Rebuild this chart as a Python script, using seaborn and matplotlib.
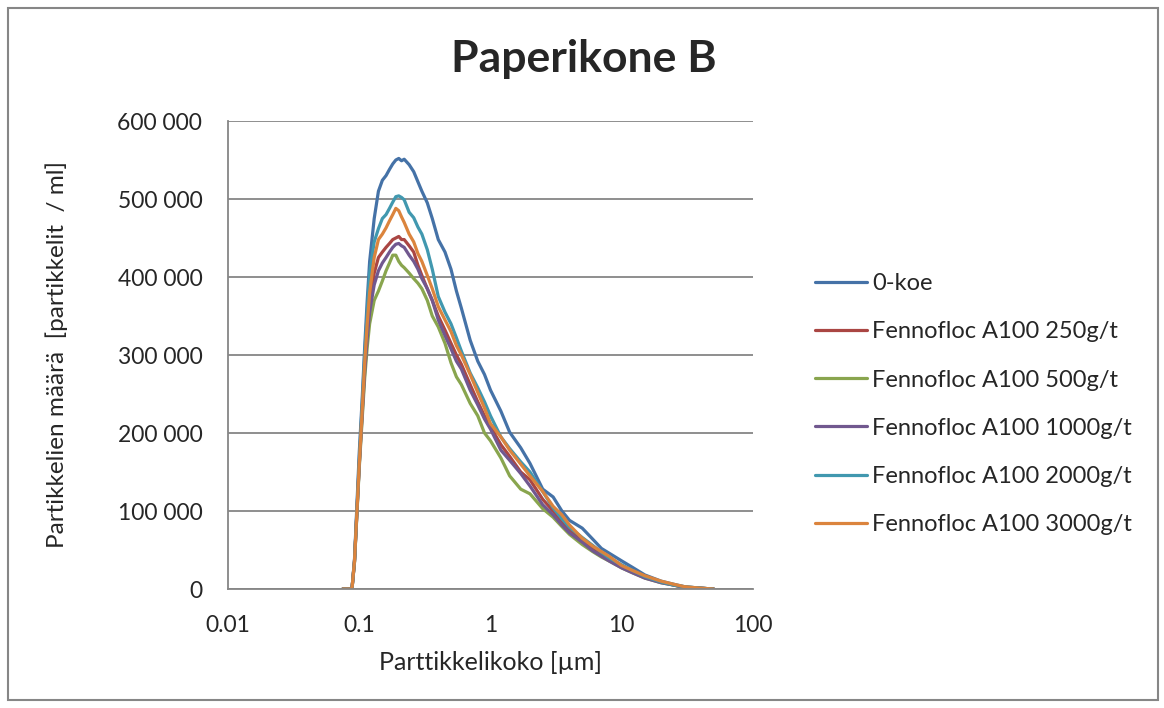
import numpy as np
import pandas as pd
import matplotlib
matplotlib.use("Agg")
import matplotlib.pyplot as plt
import seaborn as sns
from matplotlib.patches import Rectangle
from matplotlib.ticker import FuncFormatter, FixedLocator

# Particle size grid (µm)
size_um = [0.075, 0.088, 0.092, 0.1, 0.105, 0.11, 0.115, 0.12, 0.13, 0.14, 0.15, 0.16, 0.17,
           0.18, 0.19, 0.2, 0.21, 0.22, 0.24, 0.26, 0.28, 0.3, 0.33, 0.36, 0.4, 0.45, 0.5,
           0.55, 0.6, 0.7, 0.8, 0.9, 1.0, 1.2, 1.4, 1.7, 2.0, 2.5, 3, 3.5, 4, 5, 6, 7, 8,
           10, 12, 15, 20, 25, 30, 40, 50]

# Particle counts (thousands / ml)
koe0 = [0, 0, 38, 175, 240, 310, 370, 420, 475, 510, 524, 530, 538,
        545, 550, 552, 549, 551, 544, 535, 522, 510, 495, 475, 448, 432, 410,
        382, 360, 319, 292, 275, 255, 228, 201, 181, 161, 128, 118, 100, 88, 78, 64, 52, 46,
        36, 28, 18, 10, 6, 3, 1, 0]
a250 = [0, 0, 35, 160, 225, 285, 330, 365, 405, 425, 432, 438, 443,
        448, 450, 452, 448, 448, 440, 432, 415, 402, 385, 370, 350, 332, 315,
        300, 288, 262, 240, 222, 208, 185, 170, 150, 140, 115, 100, 86, 76, 62, 52, 44, 38,
        28, 22, 15, 9, 5, 2, 1, 0]
a500 = [0, 0, 34, 155, 215, 270, 310, 340, 370, 382, 395, 408, 418,
        428, 428, 420, 415, 412, 405, 398, 392, 385, 370, 350, 336, 315, 290,
        272, 262, 238, 222, 200, 190, 168, 145, 128, 122, 103, 92, 80, 70, 57, 48, 41, 36,
        27, 21, 14, 8, 5, 2, 1, 0]
a1000 = [0, 0, 35, 158, 220, 278, 322, 355, 390, 408, 418, 425, 432,
         438, 442, 443, 440, 438, 428, 420, 410, 398, 385, 370, 345, 325, 308,
         292, 282, 255, 236, 218, 205, 178, 165, 148, 132, 108, 95, 82, 72, 60, 49, 42, 36,
         27, 21, 14, 8, 5, 2, 1, 0]
a2000 = [0, 0, 36, 165, 232, 300, 355, 405, 445, 462, 475, 480, 488,
         496, 503, 504, 502, 499, 483, 476, 464, 455, 435, 410, 375, 355, 340,
         322, 305, 277, 258, 240, 222, 195, 180, 163, 150, 125, 104, 90, 79, 66, 56, 47, 40,
         31, 24, 16, 9, 5, 3, 1, 0]
a3000 = [0, 0, 36, 160, 225, 290, 340, 380, 425, 448, 455, 463, 472,
         480, 488, 485, 477, 470, 455, 445, 430, 420, 402, 385, 362, 345, 330,
         312, 300, 275, 252, 232, 212, 195, 178, 160, 145, 125, 106, 95, 82, 65, 55, 48, 42,
         30, 24, 17, 10, 6, 3, 1, 0]

series_names = ["0-koe", "Fennofloc A100 250g/t", "Fennofloc A100 500g/t",
                "Fennofloc A100 1000g/t", "Fennofloc A100 2000g/t", "Fennofloc A100 3000g/t"]
series_values = [koe0, a250, a500, a1000, a2000, a3000]
colors = ["#4572A7", "#AA4643", "#89A54E", "#71588F", "#4198AF", "#DB843D"]

x_ticks = [0.01, 0.1, 1, 10, 100]
x_tick_labels = ["0.01", "0.1", "1", "10", "100"]
y_ticks = [0, 100000, 200000, 300000, 400000, 500000, 600000]

rows = []
for name, vals in zip(series_names, series_values):
    for s, v in zip(size_um, vals):
        rows.append({"size": s, "count": v * 1000, "series": name})
df = pd.DataFrame(rows)

sns.set_style("white")
plt.rcParams["font.family"] = ["Lato", "DejaVu Sans"]

fig = plt.figure(figsize=(11.64, 7.08), dpi=100)
ax = fig.add_axes([228 / 1164, 1 - 589 / 708, (753 - 228) / 1164, (589 - 121) / 708])

sns.lineplot(data=df, x="size", y="count", hue="series", hue_order=series_names,
             palette=colors, linewidth=2.3, ax=ax, sort=False, estimator=None)

ax.set_xscale("log")
ax.set_xlim(0.01, 100)
ax.set_ylim(0, 600000)
ax.xaxis.set_major_locator(FixedLocator(x_ticks))
ax.xaxis.set_minor_locator(FixedLocator([]))
ax.set_xticklabels(x_tick_labels)
ax.set_yticks(y_ticks)
ax.yaxis.set_major_formatter(FuncFormatter(lambda v, p: f"{int(v):,}".replace(",", " ")))
ax.tick_params(axis="both", length=0, labelsize=16.5)
ax.tick_params(axis="x", pad=19)
ax.tick_params(axis="y", pad=18.5)
ax.grid(axis="y", color="#868686", linewidth=1.3)
ax.set_axisbelow(True)
for sp in ["top", "right"]:
    ax.spines[sp].set_visible(False)
for sp in ["left", "bottom"]:
    ax.spines[sp].set_color("#868686")
    ax.spines[sp].set_linewidth(1.3)

ax.set_xlabel("Parttikkelikoko [µm]", fontsize=18)
ax.set_ylabel("Partikkelien määrä  [partikkelit  / ml]", fontsize=17.5)
ax.xaxis.set_label_coords(0.5, (589 - 662) / 468)
ax.xaxis.label.set_va("center")
ax.yaxis.set_label_coords((57 - 228) / 525, 0.5)
ax.yaxis.label.set_va("center")

fig.text(584 / 1164, 1 - 59 / 708, "Paperikone B", ha="center", va="center",
         fontsize=32, fontweight="bold")

handles, labels = ax.get_legend_handles_labels()
ax.legend(handles, labels, loc="upper left", bbox_to_anchor=(794 / 1164, 1 - 252 / 708),
          bbox_transform=fig.transFigure, frameon=False, fontsize=17,
          handlelength=2.2, handletextpad=0.2, labelspacing=1.15)

fig.patches.append(Rectangle((8 / 1164, 8 / 708), 1150 / 1164, 692 / 708,
                             transform=fig.transFigure, fill=False,
                             edgecolor="#868686", linewidth=1.5))

fig.savefig("out.png", dpi=100)
